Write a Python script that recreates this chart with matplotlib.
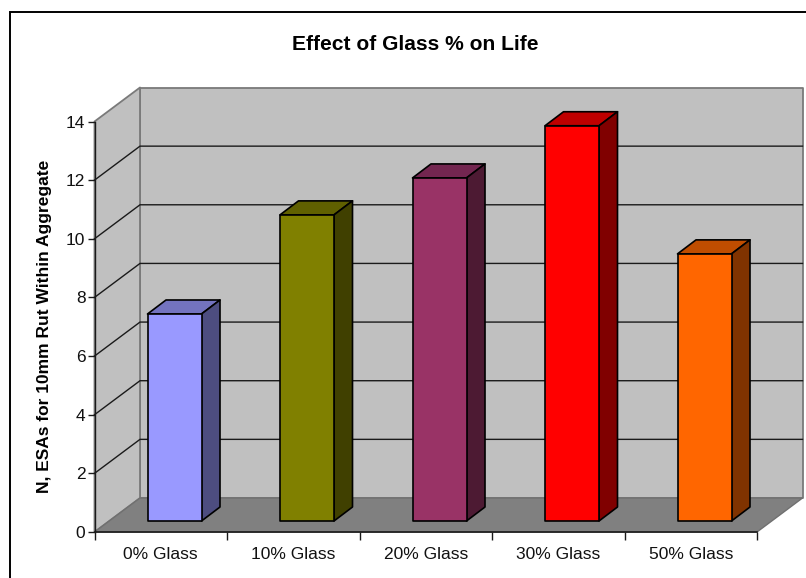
import matplotlib
matplotlib.use("Agg")
import matplotlib.pyplot as plt
from matplotlib.patches import Polygon, Rectangle

plt.rcParams['font.family'] = ['Liberation Sans', 'DejaVu Sans']

categories = ["0% Glass", "10% Glass", "20% Glass", "30% Glass", "50% Glass"]
values = [7.06, 10.44, 11.70, 13.48, 9.11]
front_colors = ["#9999FF", "#808000", "#993366", "#FF0000", "#FF6600"]
top_colors = ["#7373BF", "#606000", "#732650", "#BF0000", "#BF4D00"]
side_colors = ["#4D4D80", "#404000", "#4D1A33", "#800000", "#803300"]
y_ticks = [0, 2, 4, 6, 8, 10, 12, 14]

W, H = 806, 578
fig = plt.figure(figsize=(W / 100, H / 100), dpi=100, facecolor="white")

# chart border, running past the right and bottom edges of the canvas
fig.add_artist(Rectangle((10 / W, -0.05), 1.1, 1.05 - 12 / H, transform=fig.transFigure,
                         fill=False, edgecolor="black", linewidth=1.4))

# the axes box is the front plane of the 3D plot
left, right, bottom, top = 94.5, 757, 532, 121.5
ax = fig.add_axes([left / W, 1 - bottom / H, (right - left) / W, (bottom - top) / H])
ax.set_xlim(0, 5)
ax.set_ylim(0, 14)
ax.patch.set_visible(False)
for s in ax.spines.values():
    s.set_visible(False)

# depth of the plot in data units
ppx = (right - left) / 5
ppy = (bottom - top) / 14
dx, dy = 45.5 / ppx, 34 / ppy
grey = "#808080"
wall = "#C0C0C0"

def poly(pts, fc, ec, lw, z):
    ax.add_patch(Polygon(pts, closed=True, facecolor=fc, edgecolor=ec, linewidth=lw,
                         zorder=z, clip_on=False, joinstyle="round"))

# back wall, side wall, floor
poly([(dx, dy), (5 + dx, dy), (5 + dx, 14 + dy), (dx, 14 + dy)], wall, "#7a7a7a", 1.3, 1)
poly([(0, 0), (dx, dy), (dx, 14 + dy), (0, 14)], wall, "#7a7a7a", 1.3, 1)
poly([(0, 0), (5, 0), (5 + dx, dy), (dx, dy)], grey, "#707070", 1.0, 1.5)

# gridlines wrap from the side wall onto the back wall
for v in y_ticks[1:-1]:
    ax.plot([0, dx, 5 + dx], [v, v + dy, v + dy], color="#1a1a1a", linewidth=1.0,
            zorder=2, clip_on=False)

# front axis lines
ax.plot([0, 0], [0, 14], color="#1a1a1a", linewidth=1.0, zorder=3, clip_on=False)
ax.plot([0, 5], [0, 0], color="#1a1a1a", linewidth=1.2, zorder=3, clip_on=False)

# bars stand on the floor, set back from the front plane
bar_w = 54 / ppx
bar_dx, bar_dy = 18.5 / ppx, 14 / ppy
base_dx, base_dy = 53 / ppx, 11 / ppy
for i, (v, fc, tc, sc) in enumerate(zip(values, front_colors, top_colors, side_colors)):
    x0 = i + base_dx
    x1 = x0 + bar_w
    y0 = base_dy
    y1 = base_dy + v
    poly([(x0, y0), (x1, y0), (x1, y1), (x0, y1)], fc, "black", 1.2, 5)
    poly([(x0, y1), (x1, y1), (x1 + bar_dx, y1 + bar_dy), (x0 + bar_dx, y1 + bar_dy)], tc, "black", 1.2, 4)
    poly([(x1, y0), (x1 + bar_dx, y0 + bar_dy), (x1 + bar_dx, y1 + bar_dy), (x1, y1)], sc, "black", 1.2, 4)

ax.set_yticks(y_ticks)
ax.set_xticks(range(6))
ax.set_xticklabels([])
ax.set_xticks([i + 0.5 for i in range(5)], minor=True)
ax.set_xticklabels(categories, minor=True, fontsize=12.5, color="#111111")
ax.tick_params(axis="x", which="major", length=6, width=1.0, color="#1a1a1a")
ax.tick_params(axis="x", which="minor", length=0, pad=11)
ax.tick_params(axis="y", length=5, width=1.0, color="#1a1a1a", labelsize=12.5, labelcolor="#111111", pad=1.5)

fig.text(415.5 / W, 1 - 44 / H, "Effect of Glass % on Life", ha="center", va="center",
         fontsize=15.1, fontweight="bold", color="black")
fig.text(44.5 / W, 1 - 326 / H, "N, ESAs for 10mm Rut Within Aggregate", rotation=90,
         ha="center", va="center", fontsize=12.5, fontweight="bold", color="black")

fig.savefig("out.png", dpi=100)
